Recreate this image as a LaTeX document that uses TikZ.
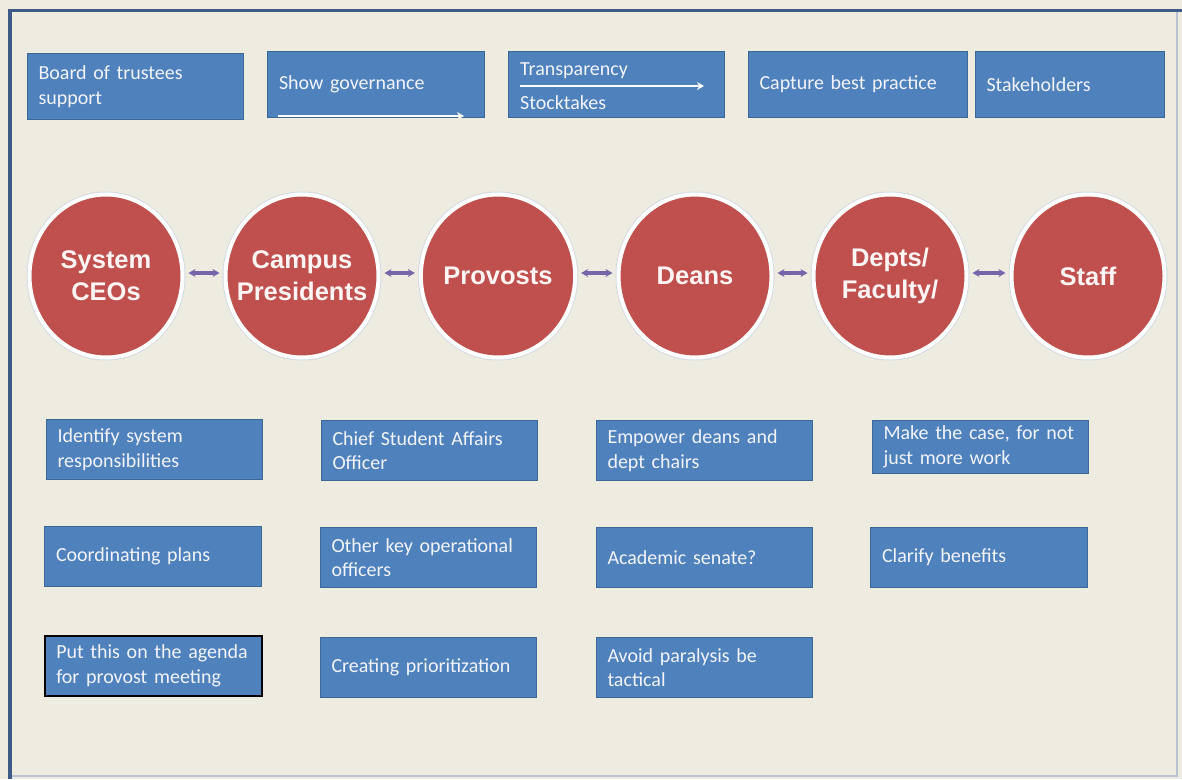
\documentclass[tikz,border=0pt]{standalone}
\usepackage{fontspec}
\setmainfont{Carlito}
\newfontfamily\circfont{Liberation Sans}
\usetikzlibrary{arrows.meta,shapes.geometric}
\definecolor{bg}{HTML}{EEEBE1}
\definecolor{boxfill}{HTML}{4F81BD}
\definecolor{boxline}{HTML}{3D6794}
\definecolor{circfill}{HTML}{C0504D}
\definecolor{framec}{HTML}{3F5A86}
\definecolor{faint}{HTML}{B9C3D3}
\definecolor{arrc}{HTML}{7466A8}
\definecolor{boxtext}{HTML}{F2F4FA}
\begin{document}
\begin{tikzpicture}[x=1pt,y=-1pt,
  bx/.style={draw=boxline, line width=1pt, fill=boxfill, anchor=north west,
    text=boxtext, font=\fontsize{20}{24.5}\selectfont, align=left,
    inner xsep=11pt, inner ysep=0pt, minimum width=216, text width=194pt, minimum height=60},
  lbl/.style={anchor=west, text=boxtext, font=\fontsize{20}{24.5}\selectfont, inner sep=0pt},
  circ/.style={ellipse, fill=circfill, draw=white, line width=4pt,
    preaction={draw=faint!60, line width=6pt},
    minimum width=153, minimum height=163, inner sep=0pt, align=center,
    text=white!96!red, font=\circfont\bfseries\fontsize{25.5}{32}\selectfont},
  dbl/.style={{Stealth[length=7pt,width=8pt]}-{Stealth[length=7pt,width=8pt]}, draw=arrc, line width=3.2pt, shorten <=4pt, shorten >=4pt},
  wht/.style={-{Stealth[length=7pt,width=8pt]}, draw=white, line width=2pt}
]
\useasboundingbox (0,0) rectangle (1182,779);
\fill[bg] (0,0) rectangle (1182,779);
% frame
\draw[faint, line width=1.5pt] (1177,10) -- (1177,776) -- (10,776);
\draw[framec, line width=3pt] (8,10) -- (1182,10);
\draw[framec, line width=4pt] (10,10) -- (10,779);

% top boxes
\node[bx, minimum height=66] (t1) at (27,53) {Board of trustees\\support};
\node[bx, minimum height=66, minimum width=217] (t2) at (267,51) {Show governance};
\node[bx, minimum height=66] (t3) at (508,51) {};
\node[lbl] (t3a) at (520,71) {Transparency};
\node[lbl] (t3b) at (520,103) {Stocktakes};
\node[bx, minimum height=66, minimum width=219, text width=197pt] (t4) at (748,51) {Capture best practice};
\node[bx, minimum height=66, minimum width=189, text width=167pt] (t5) at (975,51) {Stakeholders};
\coordinate (a1s) at (520,86);
\coordinate (a1e) at (704,86);
\draw[wht] (a1s) -- (a1e);
\coordinate (a2s) at (278,116);
\coordinate (a2e) at (464,116);
\begin{scope}
\clip (267,51) rectangle (484,118);
\draw[wht] (a2s) -- (a2e);
\end{scope}

% circles
\node[circ] (c1) at (106,276) {System\\CEOs};
\node[circ] (c2) at (302,276) {Campus\\\makebox[0pt]{Presidents}};
\node[circ] (c3) at (498,276) {Provosts};
\node[circ] (c4) at (695,276) {Deans};
\node[circ] (c5) at (890,276) {Depts/\\Faculty/};
\node[circ] (c6) at (1088,276) {Staff};
\foreach \a/\b in {c1/c2,c2/c3,c3/c4,c4/c5,c5/c6}
  \draw[dbl] ([yshift=3pt]\a.east) -- ([yshift=3pt]\b.west);

% bottom boxes
\node[bx] (b11) at (46,419) {Identify system\\responsibilities};
\node[bx] (b12) at (321,420) {Chief Student Affairs\\Officer};
\node[bx] (b13) at (596,420) {Empower deans and\\dept chairs};
\node[bx, minimum height=53] (b14) at (872,420) {Make the case, for not\\just more work};
\node[bx, minimum width=217] (b21) at (44,526) {Coordinating plans};
\node[bx] (b22) at (320,527) {Other key operational\\officers};
\node[bx] (b23) at (596,527) {Academic senate?};
\node[bx, minimum width=217] (b24) at (870,527) {Clarify benefits};
\node[bx, draw=black, line width=1.5pt, minimum width=217] (b31) at (44,635) {Put this on the agenda\\for provost meeting};
\node[bx] (b32) at (320,637) {Creating prioritization};
\node[bx] (b33) at (596,637) {Avoid paralysis be\\tactical};
\end{tikzpicture}
\end{document}
